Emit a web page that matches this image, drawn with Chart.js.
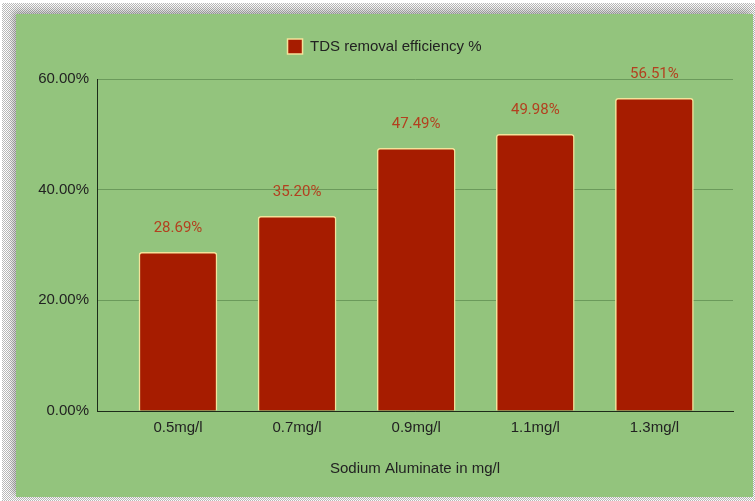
<!DOCTYPE html>
<html>
<head>
<meta charset="utf-8">
<script src="https://cdn.jsdelivr.net/npm/chart.js@4/dist/chart.umd.min.js"></script>
<style>
  html, body { margin: 0; padding: 0; background: #ffffff; }
  body { width: 755px; height: 501px; position: relative; overflow: hidden; }
  #frame {
    position: absolute; left: 2px; top: 3px; width: 753px; height: 498px;
    background: repeating-conic-gradient(#a8a8a8 0 25%, #ffffff 0 50%) 0 0 / 2px 2px;
    opacity: 0.8;
  }
  #panel {
    position: absolute; left: 16px; top: 14px; width: 737px; height: 483px;
    background: #93c47d;
    box-shadow: -3px -3px 7px rgba(0, 0, 0, 0.28);
  }
  canvas { display: block; }
</style>
</head>
<body>
<div id="frame"></div>
<div id="panel"><canvas id="chart" width="737" height="483"></canvas></div>
<script>
// Dosage categories and measured removal efficiency (%)
const categories = ['0.5mg/l', '0.7mg/l', '0.9mg/l', '1.1mg/l', '1.3mg/l'];
const removalEfficiency = [28.69, 35.20, 47.49, 49.98, 56.51];
const yTickValues = [0, 20, 40, 60];
const seriesName = 'TDS removal efficiency %';
const xTitle = 'Sodium Aluminate in mg/l';

const textColor = '#222222';
const axisColor = '#1d2b1a';
const baseFont = { family: '"Liberation Sans", Arial, sans-serif', size: 15 };

// Writes each bar's value just above its top edge
const valueLabels = {
  id: 'valueLabels',
  afterDatasetsDraw(chart) {
    const ctx = chart.ctx;
    const meta = chart.getDatasetMeta(0);
    ctx.save();
    ctx.font = '15px Roboto, "Liberation Sans", sans-serif';
    ctx.fillStyle = '#b3401f';
    ctx.textAlign = 'center';
    ctx.textBaseline = 'middle';
    meta.data.forEach((bar, i) => {
      ctx.fillText(removalEfficiency[i].toFixed(2) + '%', bar.x, bar.y - 24);
    });
    ctx.restore();
  }
};

// Empty scales used only to reserve space around the plot area
const spacer = (position, size) => ({
  type: 'linear',
  position,
  display: true,
  ticks: { display: false },
  grid: { display: false, drawTicks: false },
  border: { display: false },
  afterFit: (scale) => {
    if (scale.isHorizontal()) scale.height = size; else scale.width = size;
  }
});

new Chart(document.getElementById('chart'), {
  type: 'bar',
  data: {
    datasets: [{
      label: seriesName,
      data: removalEfficiency.map((v, i) => ({ x: i, y: v })),
      backgroundColor: '#a61c00',
      borderColor: '#f4e29a',
      borderWidth: 1.5,
      borderRadius: { topLeft: 3, topRight: 3 },
      borderSkipped: 'bottom',
      barThickness: 78
    }]
  },
  options: {
    responsive: false,
    animation: false,
    layout: { padding: { top: 15, right: 0, bottom: 0, left: 0 } },
    plugins: {
      legend: {
        position: 'top',
        labels: {
          boxWidth: 15,
          boxHeight: 15,
          padding: 10,
          color: textColor,
          font: baseFont
        }
      },
      tooltip: { enabled: false }
    },
    scales: {
      x: {
        type: 'linear',
        offset: false,
        min: -0.68,
        max: 4.66,
        afterBuildTicks: (scale) => { scale.ticks = categories.map((_, i) => ({ value: i })); },
        afterFit: (scale) => { scale.height = 86; },
        ticks: {
          color: textColor,
          font: baseFont,
          padding: 8,
          maxRotation: 0,
          autoSkip: false,
          callback: (v) => categories[v] ?? ''
        },
        grid: { display: false, drawTicks: false },
        border: { display: true, color: axisColor, width: 1 },
        title: {
          display: true,
          text: xTitle,
          color: textColor,
          font: baseFont,
          padding: { top: 19, bottom: 19 }
        }
      },
      y: {
        min: 0,
        max: 60,
        afterBuildTicks: (scale) => { scale.ticks = yTickValues.map(v => ({ value: v })); },
        afterFit: (scale) => { scale.width = 81; },
        ticks: {
          color: textColor,
          font: baseFont,
          padding: 8,
          callback: (v) => v.toFixed(2) + '%'
        },
        grid: {
          drawTicks: false,
          color: (c) => (c.tick && c.tick.value === 0) ? axisColor : '#6b9a5b',
          lineWidth: 1
        },
        border: { display: true, color: axisColor, width: 1 }
      },
      topGap: spacer('top', 15),
      rightGap: spacer('right', 20)
    }
  },
  plugins: [valueLabels]
});
</script>
</body>
</html>
